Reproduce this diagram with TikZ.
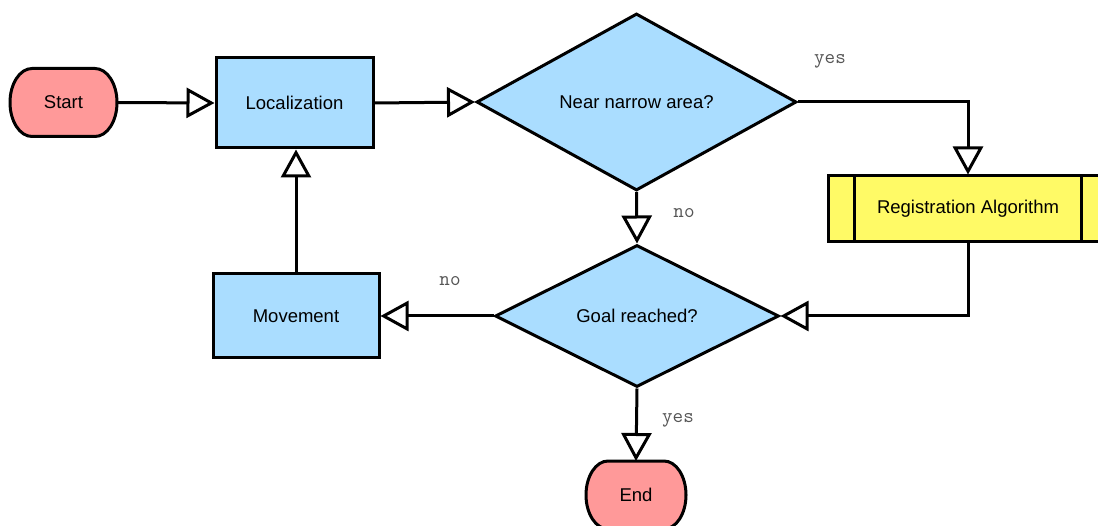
\documentclass[tikz,border=0pt]{standalone}
\usepackage{fontspec}
\setmainfont{Liberation Sans}
\usetikzlibrary{shapes.geometric,arrows.meta,backgrounds}
\definecolor{termpink}{HTML}{FF9999}
\definecolor{boxblue}{HTML}{AADDFF}
\definecolor{procyellow}{HTML}{FFFA66}
\definecolor{labelgray}{HTML}{555555}
\newcommand{\drawterm}[1]{%
  \draw[termshape] ([xshift=22pt]#1.north west) -- ([xshift=-22pt]#1.north east)
    arc[start angle=90,end angle=-90,x radius=22pt,y radius=34pt]
    -- ([xshift=22pt]#1.south west)
    arc[start angle=270,end angle=90,x radius=22pt,y radius=34pt] -- cycle;}
\begin{document}
\begin{tikzpicture}[x=1pt,y=1pt,line width=3pt,
  font=\fontsize{18.5}{22}\selectfont,
  box/.style={draw, fill=boxblue, inner sep=0pt},
  term/.style={inner sep=0pt, outer sep=0pt, minimum width=#1, minimum height=68pt},
  termshape/.style={draw=black, line width=3pt, line join=round, fill=termpink},
  decision/.style={diamond, draw, fill=boxblue, inner sep=0pt},
  predef/.style={draw, fill=procyellow, inner sep=0pt},
  flow/.style={-{Triangle[length=28pt,width=30pt,fill=white]}},
  lbl/.style={font=\ttfamily\fontsize{20.5}{22}\selectfont, text=labelgray}]
\useasboundingbox (0,0) rectangle (1098,-526);

\node[term=107pt] (start) at (63.5,-102.5) {Start};
\node[box, minimum width=157pt, minimum height=90pt] (loc) at (294.5,-103) {Localization};
\node[decision, minimum width=320pt, minimum height=177pt] (near) at (636.5,-102) {Near narrow area?};
\node[predef, minimum width=280pt, minimum height=66pt] (reg) at (968,-209) {Registration Algorithm};
\draw ([xshift=28pt]reg.north west) -- ([xshift=28pt]reg.south west);
\draw ([xshift=-28pt]reg.north east) -- ([xshift=-28pt]reg.south east);
\node[decision, minimum width=284pt, minimum height=142pt] (goal) at (637,-316) {Goal reached?};
\node[box, minimum width=166pt, minimum height=84pt] (mov) at (296,-316) {Movement};
\node[term=100pt] (stop) at (636,-495) {End};

\begin{scope}[on background layer]
\drawterm{start}
\drawterm{stop}
\end{scope}

\draw[flow] (start.east) -- (loc.west);
\draw[flow] (loc.east) -- (near.west);
\draw[flow] (near.east) -| (reg.north);
\draw[flow] (near.south) -- (goal.north);
\draw[flow] (reg.south) |- (goal.east);
\draw[flow] (goal.west) -- (mov.east);
\draw[flow] (mov.north) -- (mov.north |- loc.south);
\draw[flow] (goal.south) -- (stop.north);

\node[lbl] (l1) at (830,-61) {yes};
\node[lbl] (l2) at (684,-213) {no};
\node[lbl] (l3) at (450,-281) {no};
\node[lbl] (l4) at (678,-420) {yes};
\end{tikzpicture}
\end{document}
